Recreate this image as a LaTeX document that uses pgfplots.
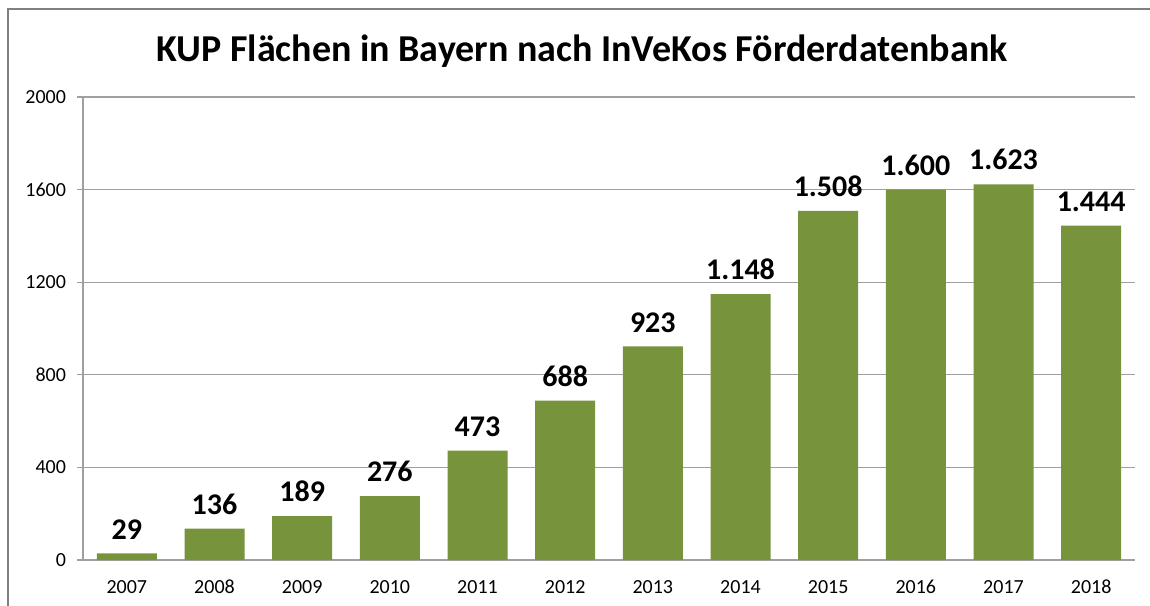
\documentclass[border=0pt]{standalone}
\usepackage{fontspec}
\setmainfont{Carlito}
\usepackage{pgfplots}
\pgfplotsset{compat=1.18}
\definecolor{bargreen}{HTML}{77933C}
\definecolor{gridgray}{HTML}{A0A0A0}
\definecolor{framegray}{HTML}{808080}
\begin{document}
\begin{tikzpicture}
\useasboundingbox (0pt,0pt) rectangle (575pt,302.5pt);
\draw[framegray, line width=1.2pt] (4pt,-20pt) -- (4pt,298pt) -- (600pt,298pt);
\node[font=\fontsize{19}{21}\selectfont\bfseries] at (291pt,277pt) {KUP Flächen in Bayern nach InVeKos Förderdatenbank};
\begin{axis}[
  at={(41.5pt,22.5pt)}, anchor=south west,
  scale only axis, width=526pt, height=231.5pt,
  xmin=-0.5, xmax=11.5, ymin=0, ymax=2000,
  ytick={0,400,...,2000},
  xtick={0,...,11},
  xticklabels={2007,2008,2009,2010,2011,2012,2013,2014,2015,2016,2017,2018},
  extra x ticks={-0.5,0.5,...,11.5},
  extra x tick labels={},
  extra x tick style={major tick length=3pt, tick style={gridgray, line width=0.6pt}},
  axis x line*=bottom, axis y line*=left,
  axis line style={gridgray, line width=0.6pt, -},
  ymajorgrids, grid style={gridgray, line width=0.6pt},
  tick align=outside,
  major tick length=3pt,
  x tick style={draw=none},
  y tick style={gridgray, line width=0.6pt},
  tick label style={font=\fontsize{10}{12}\selectfont, color=black},
  /pgf/number format/assume math mode=true,
  yticklabel style={/pgf/number format/1000 sep={}, xshift=-2pt},
  xticklabel style={yshift=-3pt, text height=7pt, text depth=0pt},
  ybar, bar width=30pt,
  nodes near coords,
  nodes near coords style={font=\fontsize{15}{17}\selectfont\bfseries, /pgf/number format/fixed, /pgf/number format/1000 sep={.}, yshift=3.5pt},
]
\addplot[fill=bargreen, draw=none] coordinates {
(0,29) (1,136) (2,189) (3,276) (4,473) (5,688) (6,923) (7,1148) (8,1508) (9,1600) (10,1623) (11,1444)};
\end{axis}
\end{tikzpicture}
\end{document}
